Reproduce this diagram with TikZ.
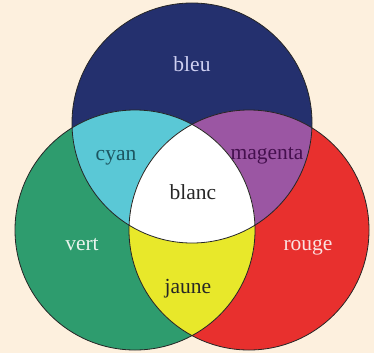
\documentclass[tikz,border=0pt]{standalone}
\usepackage{fontspec}
\setmainfont{Liberation Serif}
\definecolor{bgc}{HTML}{FDF0DE}
\definecolor{cblue}{HTML}{24306E}
\definecolor{cgreen}{HTML}{2E9C6E}
\definecolor{cred}{HTML}{E8302E}
\definecolor{ccyan}{HTML}{5AC8D6}
\definecolor{cmag}{HTML}{9B56A3}
\definecolor{cyel}{HTML}{E8E82A}
\definecolor{tcyan}{HTML}{1C5560}
\definecolor{tmag}{HTML}{45104E}
\definecolor{tbleu}{HTML}{CFD0F2}
\definecolor{tvert}{HTML}{EAF5EE}
\definecolor{trouge}{HTML}{FBE2E2}
\begin{document}
\begin{tikzpicture}[x=1pt,y=-1pt,
  lbl/.style={anchor=base,inner sep=0pt,font=\fontsize{21.5}{21.5}\selectfont},
  rim/.style={draw=black!85,line width=0.8pt}]
\fill[bgc] (0,0) rectangle (374,353);
\useasboundingbox (0,0) rectangle (374,353);
\def\B{(192,123) circle (120)}
\def\G{(135,230) circle (120)}
\def\R{(249,230) circle (120)}
\fill[cblue] \B;
\fill[cgreen] \G;
\fill[cred] \R;
\begin{scope}\clip \B; \fill[ccyan] \G; \end{scope}
\begin{scope}\clip \B; \fill[cmag] \R; \end{scope}
\begin{scope}\clip \G; \fill[cyel] \R; \end{scope}
\begin{scope}\clip \B; \clip \G; \fill[white] \R; \end{scope}
\draw[rim] \B;
\draw[rim] \G;
\draw[rim] \R;
\node[lbl,text=tbleu] (bleu) at (192,71) {bleu};
\node[lbl,text=tcyan] (cyan) at (116,160) {cyan};
\node[lbl,text=tmag] (magenta) at (267,159) {magenta};
\node[lbl,text=black!85] (blanc) at (193,199) {blanc};
\node[lbl,text=tvert] (vert) at (82,250) {vert};
\node[lbl,text=trouge] (rouge) at (308,250) {rouge};
\node[lbl,text=black!85] (jaune) at (188,293) {jaune};
\end{tikzpicture}
\end{document}
